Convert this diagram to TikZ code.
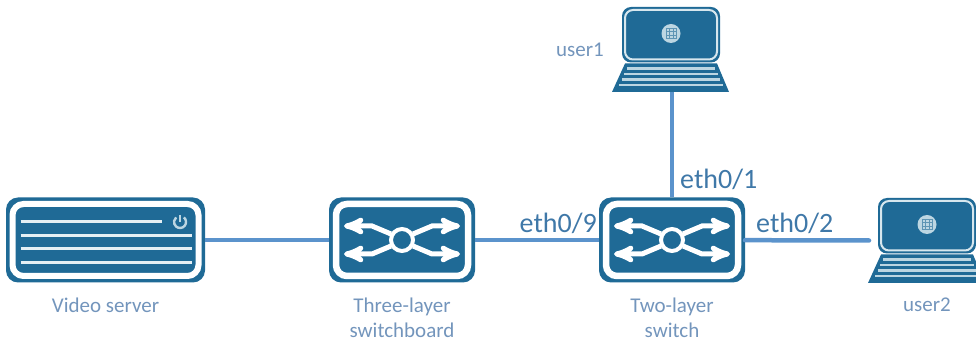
\documentclass[tikz,border=0pt]{standalone}
\usepackage{fontspec}
\setmainfont{Carlito}
\usetikzlibrary{arrows,positioning}

\definecolor{devblue}{HTML}{1F6A96}
\definecolor{wireblue}{HTML}{5B93CC}
\definecolor{textblue}{HTML}{7395BC}
\definecolor{portblue}{HTML}{3F78A8}
\definecolor{paleblue}{HTML}{BCD6E2}

\begin{document}
\begin{tikzpicture}[x=1pt,y=1pt,>=stealth',
box/.style={fill=devblue,rounded corners=12pt,inner sep=0pt,outer sep=0pt},
pc/.style={inner sep=0pt,outer sep=0pt,minimum width=116pt,minimum height=85pt},
wire/.style={wireblue,line width=4.5pt},
devlabel/.style={textblue,font=\fontsize{21}{25}\selectfont,align=center,inner sep=0pt},
port/.style={portblue,font=\fontsize{28}{28}\selectfont,inner sep=0pt},
switchicon/.pic={
    \draw[white,line width=6.5pt,rounded corners=11pt] (-66,-36) rectangle (66,36);
    \draw[white,line width=4pt] (0,0) circle (11);
    \foreach \sx in {-1,1} \foreach \sy in {-1,1}
      \draw[->,white,line width=5pt] (\sx*11,\sy*6) -- (\sx*30,\sy*14) -- (\sx*58,\sy*14);
},
servericon/.pic={
    \draw[white,line width=6pt,rounded corners=11pt] (-93,-36) rectangle (93,36);
    \draw[paleblue!40!white,line width=3pt] (-85,18) -- (56,18);
    \foreach \ly in {4,-9,-23}
      \draw[paleblue!40!white,line width=3pt] (-85,\ly) -- (86,\ly);
    \draw[paleblue,line width=2.4pt] (78.4,22.6) arc (50:-230:6);
    \draw[paleblue,line width=2.4pt] (74.5,25) -- (74.5,18);
},
laptopicon/.pic={
    \fill[devblue,rounded corners=9pt] (-49,-13) rectangle (49,42.5);
    \draw[paleblue!60!white,line width=2pt,rounded corners=8pt] (-46,-10) rectangle (46,39.5);
    \fill[paleblue] (0,16) circle (9.5);
    \draw[devblue!60!paleblue,line width=.5pt,step=3.5pt,shift={(-5.25,10.75)}] (0,0) grid (10.5,10.5);
    \fill[devblue] (-46,-14) -- (46,-14) -- (58,-42.5) -- (-59,-42.5) -- cycle;
    \foreach \ly/\lx in {-19/44,-24.5/47,-30/49,-35.5/52}
      \draw[paleblue,line width=2.4pt] (-\lx,\ly) -- (\lx,\ly);
}
]
\clip (0,0) rectangle (976,342);

\node[box,minimum width=199pt,minimum height=85pt] (VideoServer) at (105.5,102) {};
\node[box,minimum width=146pt,minimum height=85pt] (ThreeLayer) [right=124pt of VideoServer] {};
\node[box,minimum width=146pt,minimum height=85pt] (TwoLayer) [right=124pt of ThreeLayer] {};
\node[pc] (UserOne) at (671,292.5) {};
\node[pc] (UserTwo) at (927,101.5) {};

\pic at (VideoServer) {servericon};
\pic at (ThreeLayer) {switchicon};
\pic at (TwoLayer) {switchicon};
\pic at (UserOne) {laptopicon};
\pic at (UserTwo) {laptopicon};

\node[devlabel] (VideoName) [below=15pt of VideoServer] {Video server};
\node[devlabel] (ThreeName) [below=15pt of ThreeLayer] {Three-layer\\switchboard};
\node[devlabel] (TwoName) [below=15pt of TwoLayer] {Two-layer\\switch};
\node[devlabel] (UserTwoName) [below=15pt of UserTwo] {user2};
\node[devlabel] (UserOneName) [left=9pt of UserOne] {user1};

\node[port] (PortNine) [above left=6pt and 2pt of TwoLayer.west] {eth0/9};
\node[port] (PortOne) [above right=8pt and 8pt of TwoLayer.north] {eth0/1};
\node[port] (PortTwo) [above right=6pt and 11pt of TwoLayer.east] {eth0/2};

\draw[wire] (VideoServer) -- (ThreeLayer);
\draw[wire] (ThreeLayer) -- (TwoLayer);
\draw[wire,line cap=round] (TwoLayer) -- (UserTwo.west);
\draw[wire] (TwoLayer.north) -- (TwoLayer.north |- UserOne.south);
\end{tikzpicture}
\end{document}
